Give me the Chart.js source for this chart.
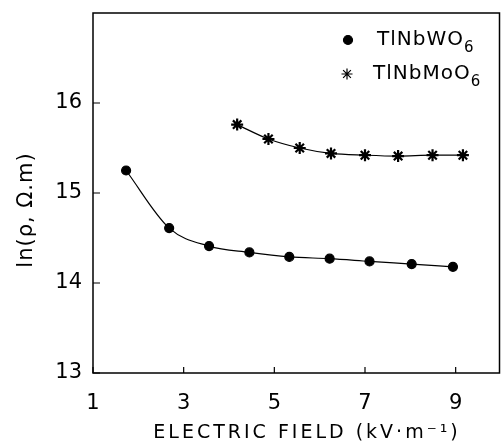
<!DOCTYPE html>
<html>
<head>
<meta charset="utf-8">
<script src="https://cdn.jsdelivr.net/npm/chart.js@4"></script>
<style>
  body { margin: 0; background: #fff; }
  #wrap { width: 501px; height: 445px; }
</style>
</head>
<body>
<div id="wrap"><canvas id="fieldChart" width="501" height="445"></canvas></div>
<script>
const xTicks = [1, 3, 5, 7, 9];
const yTicks = [13, 14, 15, 16];

const fieldW = [1.73, 2.68, 3.56, 4.45, 5.33, 6.22, 7.10, 8.03, 8.94];
const lnRhoW = [15.25, 14.61, 14.41, 14.34, 14.29, 14.27, 14.24, 14.21, 14.18];

const fieldMo = [4.18, 4.87, 5.56, 6.25, 7.00, 7.73, 8.49, 9.16];
const lnRhoMo = [15.76, 15.60, 15.50, 15.44, 15.42, 15.41, 15.42, 15.42];

const seriesNames = ['TlNbWO', 'TlNbMoO'];
const xTitle = 'ELECTRIC FIELD (kV\u00b7m\u207b\u00b9)';
const yTitle = 'ln(\u03c1, \u03a9.m)';

const FONT = '"DejaVu Sans", sans-serif';

function toPoints(xs, ys) {
    return xs.map((x, i) => ({ x: x, y: ys[i] }));
}

// inward tick marks, frame, legend and axis titles
const decorations = {
    id: 'decorations',
    afterDraw(chart) {
        const ctx = chart.ctx;
        const area = chart.chartArea;
        const xs = chart.scales.x;
        const ys = chart.scales.y;
        const right = Math.min(area.right, chart.width) - 1.5;
        ctx.save();
        ctx.strokeStyle = '#000';
        ctx.lineWidth = 1.5;
        ctx.strokeRect(area.left, area.top, right - area.left, area.bottom - area.top);

        ctx.lineWidth = 1.2;
        ctx.beginPath();
        xTicks.forEach(v => {
            const px = xs.getPixelForValue(v);
            ctx.moveTo(px, area.bottom);
            ctx.lineTo(px, area.bottom - 6);
        });
        yTicks.forEach(v => {
            const py = ys.getPixelForValue(v);
            ctx.moveTo(area.left, py);
            ctx.lineTo(area.left + 7, py);
        });
        ctx.stroke();

        // legend
        const styles = ['circle', 'star'];
        const rows = [{ mx: 348, tx: 377, y: 40 }, { mx: 347, tx: 373, y: 74 }];
        ctx.fillStyle = '#000';
        rows.forEach((r, i) => {
            Chart.helpers.drawPoint(ctx, { pointStyle: styles[i], radius: i ? 5.5 : 4.5, rotation: 0, borderWidth: 2 }, r.mx, r.y);
            ctx.font = '20px ' + FONT;
            ctx.textBaseline = 'middle';
            ctx.textAlign = 'left';
            ctx.letterSpacing = '1px';
            ctx.fillText(seriesNames[i], r.tx, r.y);
            const w = ctx.measureText(seriesNames[i]).width;
            ctx.font = '15px ' + FONT;
            ctx.fillText('6', r.tx + w, r.y + 8);
        });

        // axis titles
        ctx.font = '19px ' + FONT;
        ctx.letterSpacing = '3px';
        ctx.textAlign = 'center';
        ctx.textBaseline = 'middle';
        ctx.fillText(xTitle, 307, 433);

        ctx.font = '21px ' + FONT;
        ctx.letterSpacing = '1px';
        ctx.translate(27, 210);
        ctx.rotate(-Math.PI / 2);
        ctx.fillText(yTitle, 0, 0);
        ctx.restore();
    }
};

new Chart(document.getElementById('fieldChart').getContext('2d'), {
    type: 'scatter',
    data: {
        datasets: [{
            label: 'TlNbWO6',
            data: toPoints(fieldW, lnRhoW),
            showLine: true,
            borderColor: '#000',
            backgroundColor: '#000',
            borderWidth: 1.2,
            pointStyle: 'circle',
            pointRadius: 4.5,
            cubicInterpolationMode: 'monotone'
        }, {
            label: 'TlNbMoO6',
            data: toPoints(fieldMo, lnRhoMo),
            showLine: true,
            borderColor: '#000',
            backgroundColor: '#000',
            borderWidth: 1.2,
            pointStyle: 'star',
            pointRadius: 6,
            pointBorderWidth: 2.2,
            cubicInterpolationMode: 'monotone'
        }]
    },
    options: {
        responsive: false,
        animation: false,
        layout: { autoPadding: false, padding: { top: 13, right: 0, left: 0, bottom: 0 } },
        plugins: {
            legend: { display: false },
            tooltip: { enabled: false }
        },
        scales: {
            x: {
                type: 'linear',
                min: 1,
                max: 10,
                afterBuildTicks: s => { s.ticks = xTicks.map(v => ({ value: v })); },
                afterFit: s => { s.height = 72; s.paddingLeft = 0; s.paddingRight = 0; },
                grid: { display: false, drawTicks: false },
                border: { display: false },
                ticks: { color: '#000', font: { family: FONT, size: 21 }, padding: 18, maxRotation: 0 }
            },
            y: {
                type: 'linear',
                min: 13,
                max: 17,
                afterBuildTicks: s => { s.ticks = yTicks.map(v => ({ value: v })); },
                afterFit: s => { s.width = 93; s.paddingTop = 0; s.paddingBottom = 0; },
                grid: { display: false, drawTicks: false },
                border: { display: false },
                ticks: { color: '#000', font: { family: FONT, size: 21 }, padding: 11 }
            }
        }
    },
    plugins: [decorations]
});
</script>
</body>
</html>
